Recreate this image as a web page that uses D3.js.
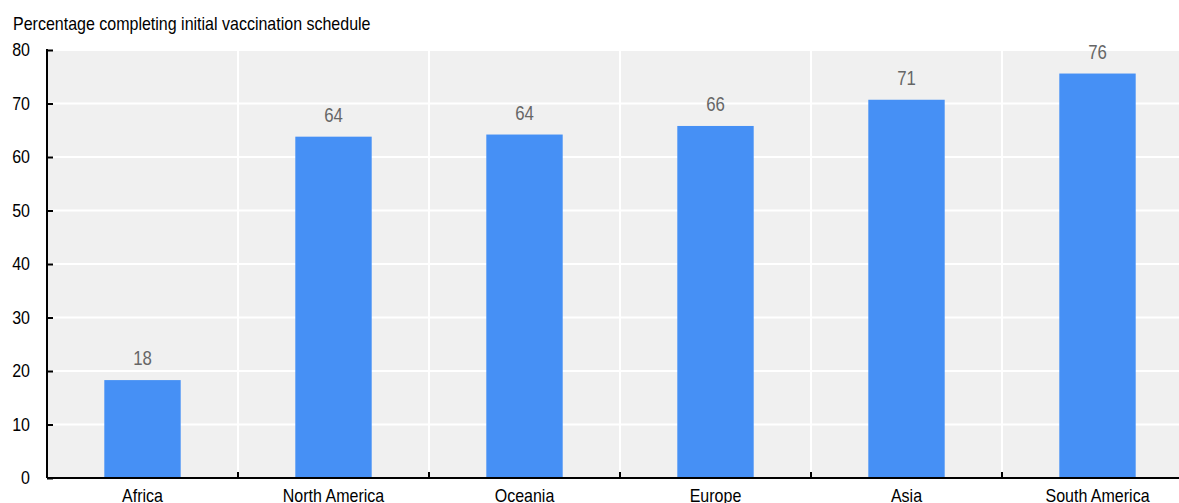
<!DOCTYPE html>
<html><head><meta charset="utf-8">
<script src="https://cdn.jsdelivr.net/npm/d3@7"></script>
<style>
html,body{margin:0;padding:0;background:#fff;overflow:hidden}
text{font-family:"Liberation Sans Narrow","Arial Narrow","Liberation Sans",Arial,sans-serif}
</style></head>
<body>
<svg id="c" width="1179" height="503"></svg>
<script>
const categories = ["Africa","North America","Oceania","Europe","Asia","South America"];
const values = [18.3, 63.8, 64.2, 65.8, 70.7, 75.6];
const labels = ["18","64","64","66","71","76"];
const yTicks = [0,10,20,30,40,50,60,70,80];
const title = "Percentage completing initial vaccination schedule";

const svg = d3.select("#c");
const pL = 47, pR = 1193, pT = 50, pB = 478;
function squeeze(sel, sq){
  sq = sq || 0.89;
  sel.each(function(){
    const t = d3.select(this);
    const xx = +t.attr("x") || 0;
    t.attr("x", 0).attr("transform", `translate(${xx},0) scale(${sq},1)`);
  });
}

const x = d3.scaleBand().domain(categories).range([pL, pR]).paddingInner(0).paddingOuter(0);
const y = d3.scaleLinear().domain([0, 80]).range([pB, pT]);

svg.append("rect").attr("x", pL).attr("y", pT).attr("width", pR-pL).attr("height", pB-pT).attr("fill", "#f0f0f0");

// horizontal gridlines
svg.append("g").selectAll("line").data(yTicks.filter(d=>d>0)).join("line")
  .attr("x1", pL).attr("x2", pR).attr("y1", d=>y(d)).attr("y2", d=>y(d))
  .attr("stroke", "#fff").attr("stroke-width", 2);
// vertical gridlines at band separators
const seps = categories.slice(1).map(c => x(c));
svg.append("g").selectAll("line").data(seps).join("line")
  .attr("x1", d=>d).attr("x2", d=>d).attr("y1", pT).attr("y2", pB)
  .attr("stroke", "#fff").attr("stroke-width", 2);

// bars
const bw = x.bandwidth()*0.40;
svg.append("g").selectAll("rect").data(categories).join("rect")
  .attr("x", (d)=>x(d)+x.bandwidth()/2-bw/2)
  .attr("y", (d,i)=>y(values[i]))
  .attr("width", bw)
  .attr("height", (d,i)=>y(0)-y(values[i]))
  .attr("fill", "#4690f5");

// value labels
svg.append("g").selectAll("text").data(categories).join("text")
  .attr("x", d=>x(d)+x.bandwidth()/2)
  .attr("y", (d,i)=>y(values[i])-15)
  .attr("text-anchor","middle")
  .attr("font-size", 20).attr("fill", "#666")
  .text((d,i)=>labels[i])
  .call(squeeze, 0.84);

// y axis
const yAxis = d3.axisLeft(y).tickValues(yTicks).tickSize(-6).tickPadding(17).tickFormat(d3.format("d"));
const gy = svg.append("g").attr("transform", `translate(${pL},0)`).call(yAxis);
gy.select(".domain").attr("stroke","#000").attr("stroke-width",2).attr("d", `M0,${pT-1}V${pB}`);
gy.selectAll(".tick line").attr("stroke","#000").attr("stroke-width",2);
gy.selectAll(".tick text").attr("font-size",18).attr("fill","#000").attr("font-family",null).call(squeeze);

// x axis
const xAxis = d3.axisBottom(x).tickSize(0).tickPadding(11);
const gx = svg.append("g").attr("transform", `translate(0,${pB})`).call(xAxis);
gx.select(".domain").attr("stroke","#000").attr("stroke-width",2).attr("d", `M${pL},0H${pR}`);
gx.selectAll(".tick text").attr("font-size",18).attr("fill","#000").attr("font-family",null).call(squeeze);
svg.append("g").selectAll("line").data(seps).join("line")
  .attr("x1", d=>d).attr("x2", d=>d).attr("y1", pB).attr("y2", pB-6)
  .attr("stroke", "#000").attr("stroke-width", 2);

// title
svg.append("text").attr("x", 13).attr("y", 30).attr("font-size", 18).attr("fill","#000").text(title).call(squeeze);
</script>
</body></html>
